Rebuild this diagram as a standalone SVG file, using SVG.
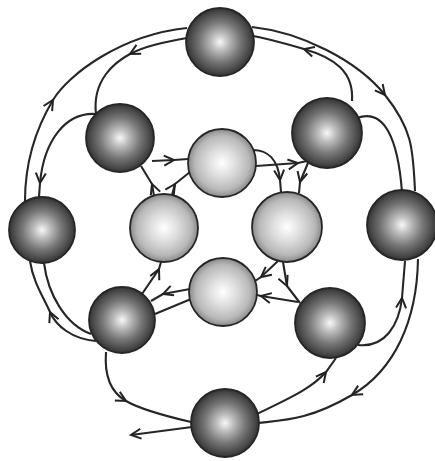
<svg xmlns="http://www.w3.org/2000/svg" width="435" height="461" viewBox="0 0 435 461">
<defs>
<radialGradient id="dark" cx="50%" cy="50%" r="50%">
<stop offset="0%" stop-color="#f8f8f8"/>
<stop offset="25%" stop-color="#bdbdbd"/>
<stop offset="60%" stop-color="#767676"/>
<stop offset="88%" stop-color="#494949"/>
<stop offset="100%" stop-color="#333333"/>
</radialGradient>
<radialGradient id="light" cx="50%" cy="50%" r="50%">
<stop offset="0%" stop-color="#ffffff"/>
<stop offset="40%" stop-color="#dedede"/>
<stop offset="80%" stop-color="#b8b8b8"/>
<stop offset="100%" stop-color="#8a8a8a"/>
</radialGradient>
<marker id="chev" viewBox="-12 -7 14 14" refX="0" refY="0" markerWidth="14" markerHeight="14" markerUnits="userSpaceOnUse" orient="auto">
<path d="M -10 -5 L 0 0 L -10 5" fill="none" stroke="#222" stroke-width="2"/>
</marker>
</defs>
<style>
.dk{fill:url(#dark);stroke:#262626;stroke-width:1.8}
.lt{fill:url(#light);stroke:#262626;stroke-width:1.8}
.ln{fill:none;stroke:#262626;stroke-width:2.1}
.ar{marker-mid:url(#chev)}
.ae{marker-end:url(#chev)}
</style>
<rect width="435" height="461" fill="#ffffff"/>
<g id="connectors">
<path class="ln ar" d="M 252 27 C 300 32, 357 60, 385 95 S 413 150, 415 191"/>
<path class="ln ar" d="M 352 101 C 354 72, 335 58, 304 49 S 265 38, 253 36"/>
<path class="ln" d="M 357 118 C 385 108, 398 140, 402 192"/>
<path class="ln ar" d="M 187 38 C 165 42, 145 46, 130 54 S 92 80, 96 114"/>
<path class="ln ar" d="M 25 201 C 25 160, 38 125, 53 100 S 120 35, 187 28"/>
<path class="ln ar" d="M 96 114 C 66 112, 44 140, 40 183 L 39 197"/>
<path class="ln ar" d="M 96 341 C 72 339, 56 326, 50 312 S 33 282, 30 261"/>
<path class="ln" d="M 44 263 C 48 295, 66 325, 91 334"/>
<path class="ln ar" d="M 106 352 C 104 378, 112 393, 126 401 S 165 416, 191 422"/>
<path class="ln ae" d="M 192 427 L 131 435"/>
<path class="ln ar" d="M 358 345 C 385 348, 399 325, 402 298 L 405 261"/>
<path class="ln ar" d="M 418 259 C 417 320, 395 370, 352 395 S 285 420, 258 423"/>
<path class="ln ar" d="M 257 414 C 285 400, 310 390, 326 372 L 336 358"/>
<path class="ln ar" d="M 152 161 L 174 160 L 188 159"/>
<path class="ln ar" d="M 154 196 L 152 184 L 141 166"/>
<path class="ln ar" d="M 172 195 L 175 184 L 190 172"/>
<path class="ln ar" d="M 256 166 L 298 163 L 307 161"/>
<path class="ln ar" d="M 253 150 C 268 150, 278 160, 280 180 L 281 192"/>
<path class="ln ar" d="M 308 163 L 300 182 L 299 193"/>
<path class="ln ar" d="M 278 261 L 261 277 L 255 281"/>
<path class="ln ar" d="M 283 262 L 287 286 L 300 303"/>
<path class="ln ar" d="M 298 302 L 261 296 L 257 295"/>
<path class="ln ar" d="M 142 294 L 159 269 L 161 262"/>
<path class="ln ar" d="M 190 289 L 163 294 L 151 301"/>
<path class="ln" d="M 191 299 L 155 314"/>
</g>
<g id="node-top"><circle class="dk" cx="220" cy="42" r="34"/></g>
<g id="node-upper-left"><circle class="dk" cx="120" cy="138" r="34"/></g>
<g id="node-upper-right"><circle class="dk" cx="327" cy="133" r="35"/></g>
<g id="node-left"><circle class="dk" cx="42" cy="230" r="33"/></g>
<g id="node-right"><circle class="dk" cx="402" cy="225" r="35"/></g>
<g id="node-lower-left"><circle class="dk" cx="122" cy="320" r="33"/></g>
<g id="node-lower-right"><circle class="dk" cx="330" cy="323" r="35"/></g>
<g id="node-bottom"><circle class="dk" cx="225" cy="423" r="34"/></g>
<g id="node-inner-top"><circle class="lt" cx="222" cy="163" r="34"/></g>
<g id="node-inner-left"><circle class="lt" cx="164" cy="228" r="34"/></g>
<g id="node-inner-right"><circle class="lt" cx="287" cy="227" r="35"/></g>
<g id="node-inner-bottom"><circle class="lt" cx="223" cy="292" r="34"/></g>
</svg>
